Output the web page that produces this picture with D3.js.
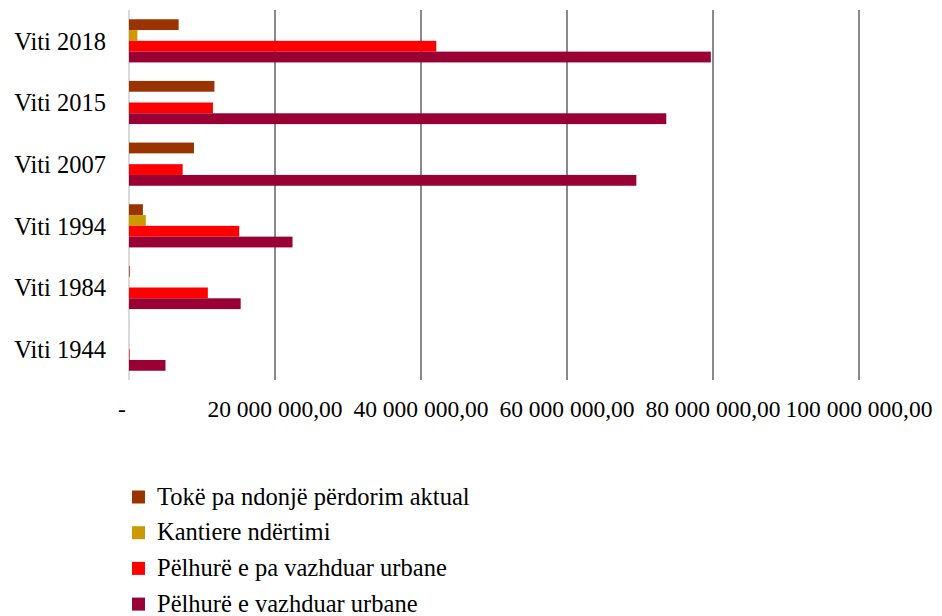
<!DOCTYPE html>
<html>
<head>
<meta charset="utf-8">
<script src="https://cdn.jsdelivr.net/npm/d3@7"></script>
<style>
  svg text { font-family: 'Liberation Serif' !important; }
</style>
</head>
<body style="margin:0">
<svg id="chart" width="942" height="616"></svg>
<script>
// Categories (top to bottom)
const categories = ["Viti 2018", "Viti 2015", "Viti 2007", "Viti 1994", "Viti 1984", "Viti 1944"];
// Series names
const seriesNames = [
  "Tokë pa ndonjë përdorim aktual",
  "Kantiere ndërtimi",
  "Pëlhurë e pa vazhduar urbane",
  "Pëlhurë e vazhduar urbane"
];
const seriesColors = ["#993300", "#CC9900", "#FF0000", "#990033"];
// Values per series, same order as categories
const tokePaPerdorim     = [6800000, 11700000, 8900000, 1900000, 100000, 0];
const kantiereNdertimi   = [1150000, 0, 0, 2300000, 0, 0];
const pelhurePaVazhduar  = [42100000, 11500000, 7350000, 15100000, 10800000, 60000];
const pelhureVazhduar    = [79700000, 73600000, 69500000, 22400000, 15300000, 5000000];
const seriesValues = [tokePaPerdorim, kantiereNdertimi, pelhurePaVazhduar, pelhureVazhduar];
// Axis ticks
const tickValues = [0, 20000000, 40000000, 60000000, 80000000, 100000000];
const tickLabels = ["-", "20 000 000,00", "40 000 000,00", "60 000 000,00", "80 000 000,00", "100 000 000,00"];

const svg = d3.select("#chart");
const x = d3.scaleLinear().domain([0, 100000000]).range([129, 859]);
const y = d3.scaleBand().domain(categories).range([10, 380]).paddingInner(0.3).paddingOuter(0.15);
const ySub = d3.scaleBand().domain(d3.range(seriesNames.length)).range([0, y.bandwidth()]);

// gridlines
svg.append("g").selectAll("line").data(tickValues).join("line")
  .attr("x1", d => x(d)).attr("x2", d => x(d))
  .attr("y1", 10).attr("y2", 380)
  .attr("stroke", d => d === 0 ? "#d9d9d9" : "#898989")
  .attr("stroke-width", 2);

// bars
const rows = [];
categories.forEach((c, ci) => {
  seriesValues.forEach((vals, si) => rows.push({ c, si, v: vals[ci] }));
});
svg.append("g").selectAll("rect").data(rows.filter(d => d.v > 0)).join("rect")
  .attr("x", x(0))
  .attr("y", d => y(d.c) + ySub(d.si))
  .attr("width", d => Math.max(0.6, x(d.v) - x(0)))
  .attr("height", ySub.bandwidth())
  .attr("fill", d => seriesColors[d.si]);

// legend swatches
const legendY = i => 497 + i * 35.7;
svg.append("g").selectAll("rect").data(seriesNames).join("rect")
  .attr("x", 132).attr("y", (d, i) => legendY(i) - 6.5).attr("width", 13).attr("height", 13)
  .attr("fill", (d, i) => seriesColors[i]);

// all texts in one join
const labels = [];
categories.forEach(c => labels.push({ t: c, x: 106, y: y(c) + y.bandwidth() / 2 + 8.7, a: "end", s: 24.5 }));
tickValues.forEach((v, i) => labels.push({ t: tickLabels[i], x: i === 0 ? x(v) - 7 : x(v), y: 417, a: "middle", s: 23.5 }));
seriesNames.forEach((n, i) => labels.push({ t: n, x: 157, y: legendY(i) + 7.5, a: "start", s: 24.5 }));

svg.append("g").selectAll("text").data(labels).join("text")
  .attr("x", d => d.x).attr("y", d => d.y)
  .attr("text-anchor", d => d.a)
  .attr("font-size", d => d.s)
  .attr("font-family", "Liberation Serif")
  .text(d => d.t);
</script>
</body>
</html>
